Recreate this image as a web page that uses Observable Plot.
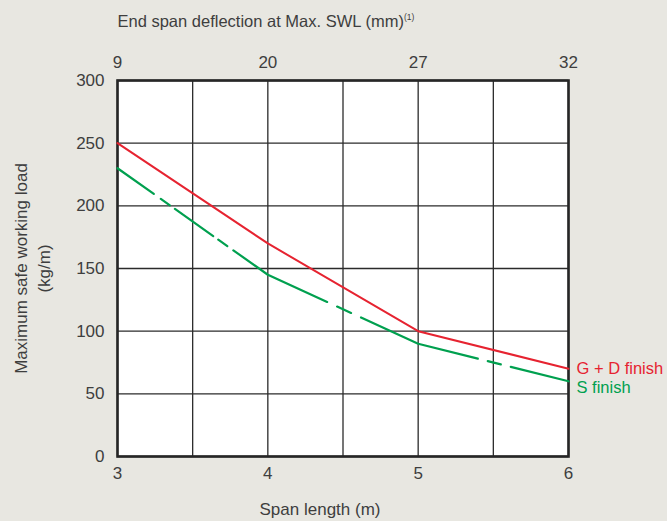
<!DOCTYPE html>
<html>
<head>
<meta charset="utf-8">
<script src="https://cdn.jsdelivr.net/npm/d3@7"></script>
<script src="https://cdn.jsdelivr.net/npm/@observablehq/plot@0.6"></script>
<style>
  html, body { margin: 0; padding: 0; background: #e8e7e1; }
</style>
</head>
<body>
<div id="chart"></div>
<script>
// ---- data ----
const spanLengths = [3, 4, 5, 6];               // m
const deflectionLabels = [9, 20, 27, 32];       // mm, top axis
const gdFinishLoad = [250, 170, 100, 70];       // kg/m
const sFinishLoad = [230, 145, 90, 60];         // kg/m
const seriesNames = ["G + D finish", "S finish"];
const yTicks = [0, 50, 100, 150, 200, 250, 300];
const xGridLines = [3, 3.5, 4, 4.5, 5, 5.5, 6];

const titleTop = "End span deflection at Max. SWL (mm)";
const titleBottom = "Span length (m)";
const titleLeft = "Maximum safe working load\n(kg/m)";

const RED = "#e62330";
const GREEN = "#00a04f";
const INK = "#3e3e3e";
const GRID = "#2b2b2b";

const gd = spanLengths.map((x, i) => ({x, y: gdFinishLoad[i], name: seriesNames[0]}));
const sf = spanLengths.map((x, i) => ({x, y: sFinishLoad[i], name: seriesNames[1]}));

const chart = Plot.plot({
  width: 667,
  height: 521,
  marginLeft: 117,
  marginRight: 99,
  marginTop: 80,
  marginBottom: 65,
  style: {
    background: "#e8e7e1",
    fontFamily: "'Liberation Sans', Arial, sans-serif",
    fontSize: "17px",
    color: INK,
    overflow: "visible"
  },
  x: {domain: [3, 6]},
  y: {domain: [0, 300]},
  marks: [
    Plot.frame({fill: "white", stroke: "none"}),
    Plot.gridX(xGridLines, {stroke: GRID, strokeOpacity: 1, strokeWidth: 1.3}),
    Plot.gridY(yTicks, {stroke: GRID, strokeOpacity: 1, strokeWidth: 1.3}),
    Plot.frame({stroke: "#262626", strokeWidth: 2.6}),
    Plot.line(gd, {x: "x", y: "y", stroke: RED, strokeWidth: 2}),
    Plot.line(sf, {x: "x", y: "y", stroke: GREEN, strokeWidth: 2.2,
      strokeDasharray: "44.5,8.6,11.1,6.2,46.9,6.2,11.1,7.4,107.5,11,15.3,11,124.3,10.3,13.4,10.3,80"}),
    Plot.text(gd.slice(-1), {x: "x", y: "y", text: "name", fill: RED, textAnchor: "start", dx: 8, dy: 0, fontSize: 16.5}),
    Plot.text(sf.slice(-1), {x: "x", y: "y", text: "name", fill: GREEN, textAnchor: "start", dx: 8, dy: 6.5, fontSize: 16.5}),
    Plot.axisX(spanLengths, {anchor: "bottom", tickSize: 0, tickPadding: 10, label: null, fill: INK,
      tickFormat: (d) => String(d)}),
    Plot.axisX(spanLengths, {anchor: "top", tickSize: 0, tickPadding: 13, label: null, fill: INK,
      tickFormat: (d) => deflectionLabels[spanLengths.indexOf(d)]}),
    Plot.axisY(yTicks, {anchor: "left", tickSize: 0, tickPadding: 13, label: null, fill: INK}),
    Plot.text([titleTop], {frameAnchor: "top-left", textAnchor: "start", dy: -65, fontSize: 16.5, fill: INK}),
    Plot.text([titleBottom], {frameAnchor: "bottom", dx: -23, dy: 58, fontSize: 17, fill: INK}),
    Plot.text([titleLeft], {frameAnchor: "left", textAnchor: "middle", rotate: -90, dx: -86, lineHeight: 1.35, fontSize: 17, fill: INK})
  ]
});

// superscript footnote marker on the top title
d3.select(chart).selectAll("text")
  .filter(function () { return this.textContent === titleTop; })
  .append("tspan")
  .attr("font-size", 8.5)
  .attr("dy", -7)
  .text("(1)");

document.getElementById("chart").appendChild(chart);
</script>
</body>
</html>
